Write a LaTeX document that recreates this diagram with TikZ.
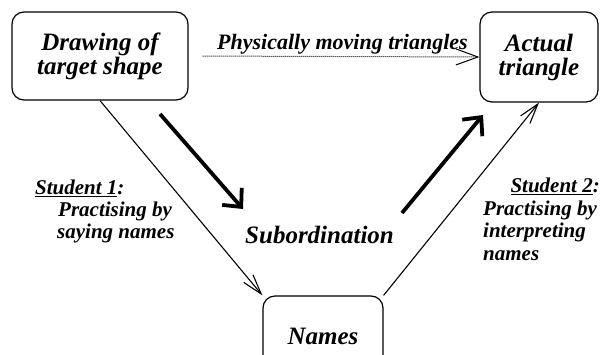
\documentclass[tikz,border=0pt]{standalone}
\usepackage{fontspec}
\setmainfont{Liberation Serif}[BoldItalicFont={Liberation Serif Bold Italic}]
\usetikzlibrary{arrows.meta}
\begin{document}
\begin{tikzpicture}[x=1pt,y=-1pt,
  box/.style={draw, line width=1.2pt, rounded corners=12pt, inner sep=0pt, align=center,
    font=\fontsize{25}{24}\selectfont\bfseries\itshape},
  lbl/.style={inner sep=0pt, font=\fontsize{21}{22}\selectfont\bfseries\itshape},
  biglbl/.style={inner sep=0pt, font=\fontsize{25}{24}\selectfont\bfseries\itshape},
  thinarr/.style={line width=1.1pt, -{Straight Barb[length=20pt,width=12pt]}},
  thickarr/.style={line width=3.8pt, -{Straight Barb[length=14pt,width=26pt]}},
  dotarr/.style={line width=1pt, densely dotted, -{Straight Barb[length=22pt,width=16pt]}}
]
\clip (0,0) rectangle (611,355);
\node[box, minimum width=176pt, minimum height=88pt] (d1) at (100,56) {Drawing of\\target shape};
\node[box, minimum width=118pt, minimum height=90pt] (a2) at (539,57) {Actual\\triangle};
\node[box, minimum width=120pt, minimum height=80pt] (nm) at (323,336) {Names};

\draw[dotarr, shorten <=14pt] (d1.east) -- (a2.west);
\draw[thinarr] (d1.south) -- (nm.north west);
\draw[thinarr] (nm.north east) -- (a2.south);

\coordinate (k1s) at (160,114);
\coordinate (k1e) at (243,209);
\coordinate (k2s) at (402,213);
\coordinate (k2e) at (483,115);
\draw[thickarr] (k1s) -- (k1e);
\draw[thickarr] (k2s) -- (k2e);

\node[lbl, anchor=base west, font=\fontsize{22}{22}\selectfont\bfseries\itshape] (pm) at (217,50) {Physically moving triangles};
\node[lbl, anchor=base west] (s1) at (35,195) {\underline{Student 1}:};
\node[lbl, anchor=base west] (s1a) at (58,217) {Practising by};
\node[lbl, anchor=base west] (s1b) at (57,239) {saying names};
\node[lbl, anchor=base east] (s2) at (600,193) {\underline{Student 2}:};
\node[lbl, anchor=base west] (s2a) at (483,216) {Practising by};
\node[lbl, anchor=base west] (s2b) at (483,238) {interpreting};
\node[lbl, anchor=base west] (s2c) at (483,261) {names};
\node[biglbl, anchor=base west] (sub) at (245,244) {Subordination};
\end{tikzpicture}
\end{document}
